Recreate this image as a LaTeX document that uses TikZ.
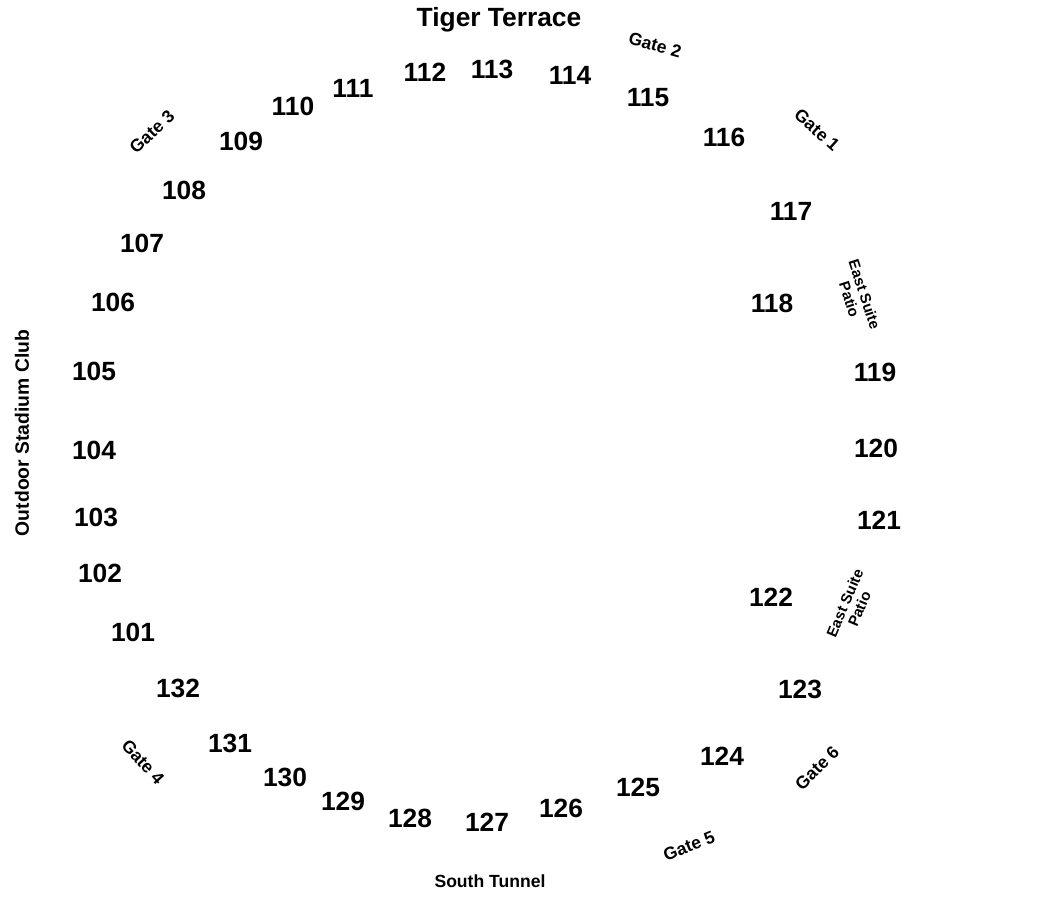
\documentclass[tikz,border=0pt]{standalone}
\usepackage{fontspec}
\setmainfont{Liberation Sans}
\usepackage{tikz}

\tikzset{
  section/.style={font=\bfseries\fontsize{15}{18}\selectfont, inner sep=0pt},
  gate/.style={font=\bfseries\fontsize{10}{12}\selectfont, inner sep=0pt},
  area/.style={font=\bfseries\fontsize{11}{13}\selectfont, inner sep=0pt},
  patio/.style={font=\bfseries\fontsize{8.5}{9}\selectfont, inner sep=0pt, align=center}
}

\begin{document}
\begin{tikzpicture}[x=0.02cm,y=-0.02cm]
\useasboundingbox (0,0) rectangle (1050,910);

% Areas around the bowl
\node[section] (tiger) at (499,20) {Tiger Terrace};
\node[gate] (south) at (490,881) {South Tunnel};
\node[area,rotate=90] (club) at (22,433) {Outdoor Stadium Club};
\node[patio,rotate=-72] (patioN) at (857,297) {East Suite\\Patio};
\node[patio,rotate=67] (patioS) at (852,606) {East Suite\\Patio};

% Gates
\node[gate,rotate=-42] (gate1) at (817,130) {Gate 1};
\node[gate,rotate=-16] (gate2) at (655,45) {Gate 2};
\node[gate,rotate=43] (gate3) at (152,132) {Gate 3};
\node[gate,rotate=-48] (gate4) at (143,762) {Gate 4};
\node[gate,rotate=22] (gate5) at (689,846) {Gate 5};
\node[gate,rotate=45] (gate6) at (817,768) {Gate 6};

% West side
\node[section] (s101) at (133,632) {101};
\node[section] (s102) at (100,573) {102};
\node[section] (s103) at (96,517) {103};
\node[section] (s104) at (94,450) {104};
\node[section] (s105) at (94,371) {105};
\node[section] (s106) at (113,302) {106};
\node[section] (s107) at (142,243) {107};
\node[section] (s108) at (184,190) {108};

% North side
\node[section] (s109) at (241,141) {109};
\node[section] (s110) at (293,106) {110};
\node[section] (s111) at (353,88) {111};
\node[section] (s112) at (425,72) {112};
\node[section] (s113) at (492,69) {113};
\node[section] (s114) at (570,75) {114};
\node[section] (s115) at (648,98) {115};
\node[section] (s116) at (724,137) {116};

% East side
\node[section] (s117) at (791,211) {117};
\node[section] (s118) at (772,303) {118};
\node[section] (s119) at (875,372) {119};
\node[section] (s120) at (876,448) {120};
\node[section] (s121) at (879,520) {121};
\node[section] (s122) at (771,597) {122};
\node[section] (s123) at (800,689) {123};
\node[section] (s124) at (722,756) {124};

% South side
\node[section] (s125) at (638,787) {125};
\node[section] (s126) at (561,808) {126};
\node[section] (s127) at (487,822) {127};
\node[section] (s128) at (410,818) {128};
\node[section] (s129) at (343,801) {129};
\node[section] (s130) at (285,777) {130};
\node[section] (s131) at (230,743) {131};
\node[section] (s132) at (178,688) {132};
\end{tikzpicture}
\end{document}
